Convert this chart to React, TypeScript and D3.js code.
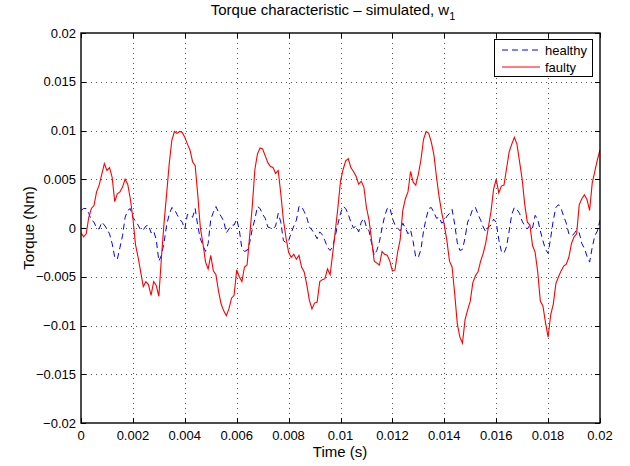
import * as d3 from 'd3';

// torque samples, in units of 1e-3 Nm, every 0.1 ms from 0 to 20 ms
const healthy = [
  1.8, 2.0, 2.0, 1.5, 0.8, 0.6, 0.0, -0.1, 0.6, 0.3,
  -0.1, -0.6, -1.6, -3.0, -3.2, -2.0, -0.8, 1.1, 1.8, 2.0,
  1.1, 0.7, 0.3, -0.2, -0.2, 0.2, 0.3, -0.5, -0.3, -1.2,
  -3.4, -2.8, -1.5, 0.3, 1.4, 2.1, 1.9, 1.4, 0.9, 0.6,
  -0.1, 1.4, 1.3, 1.1, 2.0, 0.2, -1.1, -1.8, -2.4, -1.6,
  0.9, 1.6, 2.2, 1.6, 1.2, 0.7, -0.5, -0.1, 0.3, 0.3,
  0.9, -0.2, -2.1, -2.4, -2.3, -1.5, -0.1, 0.9, 2.2, 2.0,
  1.4, 1.0, 0.1, 0.0, -0.1, 0.2, 1.5, 0.6, -1.3, -1.5,
  -1.3, -0.5, 0.2, 0.8, 2.2, 2.2, 1.7, 1.1, 0.1, -0.2,
  -0.6, -1.1, -0.4, -0.7, -1.3, -2.0, -2.3, -1.9, -0.8, 0.4,
  1.5, 2.2, 2.0, 1.4, 0.6, 0.0, 0.2, -0.4, 0.6, 1.0,
  0.1, -0.3, -1.6, -2.8, -2.3, -1.4, 0.0, 1.2, 2.0, 2.1,
  1.0, 0.3, 0.0, -0.3, 0.5, 0.0, -0.6, -0.2, -1.4, -3.0,
  -3.0, -2.2, -0.3, 1.0, 2.0, 2.1, 1.6, 1.0, 1.1, 0.5,
  0.7, 1.2, 1.5, 1.9, 0.4, -1.5, -2.3, -2.2, -1.0, 0.6,
  1.2, 2.0, 2.1, 1.4, 0.8, 0.1, -0.4, 0.1, 0.3, 0.9,
  0.6, -1.2, -2.4, -2.6, -1.9, -0.3, 1.4, 2.1, 1.9, 1.5,
  0.7, 0.2, -0.1, 0.3, 0.0, 1.3, 0.9, -0.3, -1.3, -2.2,
  -2.6, -1.0, 0.8, 2.1, 2.4, 2.0, 1.2, 0.5, -0.6, -0.8,
  -0.6, -0.2, -0.5, -1.6, -2.1, -2.9, -3.5, -2.0, -0.8, -0.3,
  0.8,
];

const faulty = [
  -0.5, -0.9, -0.6, 1.1, 2.0, 2.3, 3.7, 4.4, 5.5, 6.6,
  5.9, 6.2, 5.2, 2.7, 3.5, 3.7, 4.2, 5.0, 4.5, 3.0,
  1.0, -1.7, -3.0, -4.5, -6.0, -5.5, -5.8, -6.9, -5.5, -5.9,
  -7.0, -3.0, 0.5, 3.5, 6.6, 9.0, 9.9, 9.7, 9.9, 9.8,
  9.3, 8.6, 8.0, 6.8, 6.4, 3.4, 0.0, -1.6, -3.5, -4.2,
  -2.8, -4.4, -4.8, -6.5, -7.8, -8.5, -9.0, -8.3, -7.2, -6.9,
  -4.3, -5.0, -5.5, -4.0, -3.8, -0.8, 2.2, 6.0, 7.6, 8.2,
  8.1, 7.4, 6.7, 6.3, 6.2, 5.6, 5.9, 3.5, 0.8, -1.0,
  -2.5, -3.0, -2.7, -3.2, -2.8, -4.0, -4.5, -5.8, -7.4, -8.3,
  -7.7, -7.6, -5.5, -5.3, -5.2, -4.2, -4.8, -2.6, -0.3, 2.1,
  4.8, 6.0, 6.9, 7.1, 6.2, 5.8, 5.3, 4.5, 4.8, 4.2,
  2.1, 0.8, -1.3, -3.4, -3.6, -3.8, -2.4, -2.7, -2.8, -3.4,
  -4.4, -4.3, -2.5, -1.2, 1.8, 3.0, 3.7, 5.8, 4.7, 4.4,
  5.5, 7.0, 9.1, 9.9, 9.7, 8.8, 7.5, 5.2, 3.2, 1.6,
  0.3, -1.3, -3.4, -4.0, -6.7, -9.8, -11.2, -11.8, -9.4, -8.4,
  -7.5, -5.6, -4.9, -4.5, -3.4, -2.6, -1.5, 0.1, 1.7, 4.0,
  5.0, 3.6, 4.3, 4.4, 6.1, 7.8, 8.6, 9.3, 8.6, 6.8,
  5.0, 2.4, 0.6, 0.3, -1.8, -2.5, -4.5, -7.5, -8.0, -9.7,
  -11.2, -8.9, -7.8, -5.7, -5.0, -4.4, -3.9, -3.7, -3.0, -1.6,
  -0.9, -0.6, 2.4, 3.0, 3.4, 2.9, 1.8, 4.6, 5.8, 7.0,
  8.0,
];

const sampleStep = 0.0001;
const xTicks = [0, 0.002, 0.004, 0.006, 0.008, 0.01, 0.012, 0.014, 0.016, 0.018, 0.02];
const yTicks = [-0.02, -0.015, -0.01, -0.005, 0, 0.005, 0.01, 0.015, 0.02];
const legendItems = [
  { name: 'healthy', color: '#0000ff', dash: '6,4' },
  { name: 'faulty', color: '#ff0000', dash: null },
];

const width = 630;
const height = 466;
const box = { left: 81, right: 600, top: 33, bottom: 423 };
const font = 'Liberation Sans, Arial, Helvetica, sans-serif';

const fmt = (v: number) => String(+v.toPrecision(6)).replace('-', '\u2212');

export default function App() {
  const x = d3.scaleLinear().domain([0, 0.02]).range([box.left, box.right]);
  const y = d3.scaleLinear().domain([-0.02, 0.02]).range([box.bottom, box.top]);

  const line = d3
    .line<number>()
    .x((_, i) => x(i * sampleStep))
    .y((d) => y(d / 1000));

  const tick = 5;

  return (
    <svg
      width={width}
      height={height}
      style={{ position: 'absolute', left: 0, top: 0, background: '#fff' }}
      fontFamily={font}
    >
      <defs>
        <clipPath id="plot">
          <rect x={box.left} y={box.top} width={box.right - box.left} height={box.bottom - box.top} />
        </clipPath>
      </defs>
      <rect width={width} height={height} fill="#fff" />

      {/* grid */}
      <g stroke="#555" strokeWidth={1} strokeDasharray="1,4">
        {xTicks.slice(1, -1).map((t) => (
          <line key={t} x1={Math.round(x(t)) + 0.5} x2={Math.round(x(t)) + 0.5} y1={box.top} y2={box.bottom} />
        ))}
        {yTicks.slice(1, -1).map((t) => (
          <line key={t} x1={box.left} x2={box.right} y1={Math.round(y(t)) + 0.5} y2={Math.round(y(t)) + 0.5} />
        ))}
      </g>

      {/* data */}
      <g clipPath="url(#plot)" fill="none">
        <path d={line(healthy) ?? ''} stroke="#0000ff" strokeWidth={1} strokeDasharray="6,4" />
        <path d={line(faulty) ?? ''} stroke="#ff0000" strokeWidth={1.1} />
      </g>

      {/* ticks */}
      <g stroke="#000" strokeWidth={1}>
        {xTicks.map((t) => {
          const px = Math.round(x(t)) + 0.5;
          return (
            <g key={t}>
              <line x1={px} x2={px} y1={box.bottom} y2={box.bottom - tick} />
              <line x1={px} x2={px} y1={box.top} y2={box.top + tick} />
            </g>
          );
        })}
        {yTicks.map((t) => {
          const py = Math.round(y(t)) + 0.5;
          return (
            <g key={t}>
              <line x1={box.left} x2={box.left + tick} y1={py} y2={py} />
              <line x1={box.right} x2={box.right - tick} y1={py} y2={py} />
            </g>
          );
        })}
      </g>
      <rect
        x={box.left}
        y={box.top}
        width={box.right - box.left}
        height={box.bottom - box.top}
        fill="none"
        stroke="#000"
        strokeWidth={1.4}
      />

      {/* tick labels */}
      <g fontSize={13} fill="#000">
        {xTicks.map((t) => (
          <text key={t} x={x(t)} y={440} textAnchor="middle">
            {fmt(t)}
          </text>
        ))}
        {yTicks.map((t) => (
          <text key={t} x={box.left - 5} y={y(t) + 4.5} textAnchor="end">
            {fmt(t)}
          </text>
        ))}
      </g>

      {/* labels */}
      <text x={340} y={457} textAnchor="middle" fontSize={15}>
        Time (s)
      </text>
      <text transform="translate(34,228) rotate(-90)" textAnchor="middle" fontSize={15}>
        Torque (Nm)
      </text>
      <text x={333} y={15} textAnchor="middle" fontSize={15}>
        Torque characteristic – simulated, w
        <tspan dy={5} fontSize={11}>1</tspan>
      </text>

      {/* legend */}
      <g>
        <rect x={494.5} y={39.5} width={98} height={37} fill="#fff" stroke="#000" strokeWidth={1} />
        {legendItems.map((d, i) => (
          <g key={d.name} transform={`translate(0, ${50 + i * 17})`}>
            <line
              x1={502}
              x2={540}
              y1={0}
              y2={0}
              stroke={d.color}
              strokeWidth={1.1}
              strokeDasharray={d.dash ?? undefined}
            />
            <text x={545} y={5} fontSize={13}>
              {d.name}
            </text>
          </g>
        ))}
      </g>
    </svg>
  );
}
